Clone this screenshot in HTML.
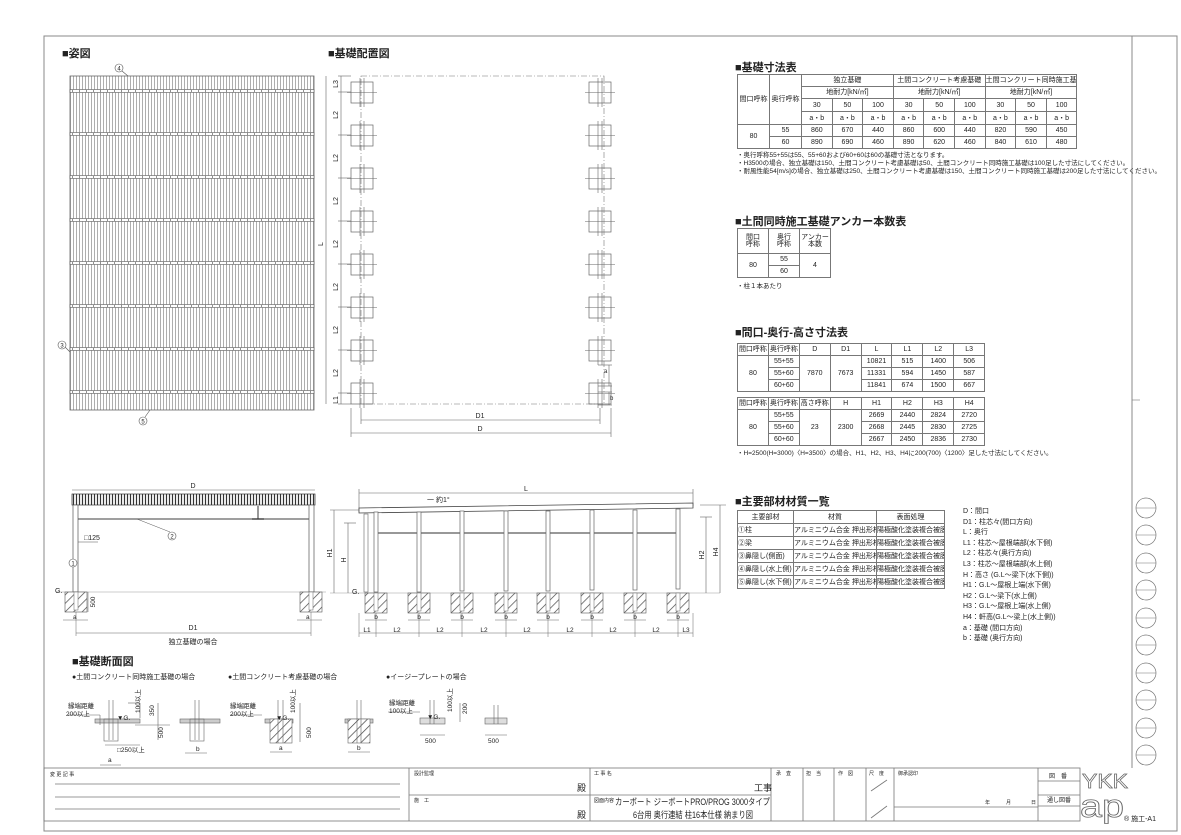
<!DOCTYPE html>
<html><head><meta charset="utf-8">
<style>
html,body{margin:0;padding:0;background:#fff;}
body{width:1181px;height:835px;position:relative;overflow:hidden;font-family:"Liberation Sans","Noto Sans CJK JP",sans-serif;color:#222;}
svg{position:absolute;left:0;top:0;}
svg text{font-family:"Liberation Sans","Noto Sans CJK JP",sans-serif;}
.t{position:absolute;border-collapse:collapse;font-size:7px;line-height:1;table-layout:fixed;}
.t td{border:1px solid #777;text-align:center;padding:0;white-space:nowrap;overflow:hidden;}
.h{position:absolute;font-size:11px;font-weight:bold;white-space:nowrap;}
.n{position:absolute;font-size:6.5px;white-space:nowrap;}
</style></head><body>
<svg width="1181" height="835" viewBox="0 0 1181 835" fill="#222">
<defs>
<pattern id="raf" width="3" height="10" patternUnits="userSpaceOnUse"><rect width="3" height="10" fill="#fff"/><line x1="1.5" y1="0" x2="1.5" y2="10" stroke="#999" stroke-width="0.8"/></pattern>
<pattern id="tick" width="3" height="10" patternUnits="userSpaceOnUse"><rect width="3" height="10" fill="#fff"/><line x1="1.5" y1="0" x2="1.5" y2="10" stroke="#333" stroke-width="1.2"/></pattern>
<pattern id="hat" width="6" height="6" patternUnits="userSpaceOnUse" patternTransform="rotate(45)"><rect width="6" height="6" fill="#fff"/><line x1="0" y1="0" x2="0" y2="6" stroke="#444" stroke-width="1.4"/></pattern>
<g id="sq"><rect x="0" y="0" width="22" height="21" fill="none" stroke="#666" stroke-width="0.7"/><line x1="-4" y1="10.5" x2="26" y2="10.5" stroke="#666" stroke-width="0.6"/><line x1="9" y1="-4" x2="9" y2="25" stroke="#666" stroke-width="0.6"/><line x1="13" y1="-4" x2="13" y2="25" stroke="#666" stroke-width="0.6"/></g>
<g id="beam"><rect x="70" y="-1.5" width="244" height="3" fill="#fff" stroke="#555" stroke-width="0.6"/><line x1="72" y1="0" x2="312" y2="0" stroke="#222" stroke-width="1" stroke-dasharray="1 6"/></g>
<g id="fnd"><rect x="-11" y="0" width="22" height="20" fill="url(#hat)" stroke="#555" stroke-width="0.6"/><rect x="-2" y="0" width="4" height="18" fill="#fff" stroke="#666" stroke-width="0.5"/></g>
<g id="post"><rect x="-2" y="0" width="4" height="80" fill="#fff" stroke="#666" stroke-width="0.7"/></g>
</defs>

<rect x="44" y="36" width="1133" height="795" fill="none" stroke="#888" stroke-width="1"/>
<line x1="1132" y1="36" x2="1132" y2="768" stroke="#888" stroke-width="1"/>

<text x="62" y="57" font-size="11" font-weight="bold">■姿図</text>
<rect x="70" y="76" width="244" height="334" fill="url(#raf)" stroke="#666" stroke-width="0.8"/>
<use href="#beam" y="91"/><use href="#beam" y="134"/><use href="#beam" y="177"/><use href="#beam" y="220"/>
<use href="#beam" y="263"/><use href="#beam" y="306"/><use href="#beam" y="349"/><use href="#beam" y="392"/>
<circle cx="119" cy="68" r="4" fill="#fff" stroke="#555" stroke-width="0.6"/><text x="119" y="70.5" font-size="6" text-anchor="middle">4</text>
<line x1="122" y1="71" x2="128" y2="76" stroke="#555" stroke-width="0.6"/>
<circle cx="62" cy="345" r="4" fill="#fff" stroke="#555" stroke-width="0.6"/><text x="62" y="347.5" font-size="6" text-anchor="middle">3</text>
<line x1="65" y1="347" x2="70" y2="352" stroke="#555" stroke-width="0.6"/>
<circle cx="143" cy="421" r="4" fill="#fff" stroke="#555" stroke-width="0.6"/><text x="143" y="423.5" font-size="6" text-anchor="middle">5</text>
<line x1="145" y1="417" x2="150" y2="410" stroke="#555" stroke-width="0.6"/>

<text x="328" y="57" font-size="11" font-weight="bold">■基礎配置図</text>
<rect x="361" y="76" width="243" height="328" fill="none" stroke="#777" stroke-width="0.6" stroke-dasharray="6 2 1 2"/>
<use href="#sq" x="351" y="82"/><use href="#sq" x="589" y="82"/>
<use href="#sq" x="351" y="125"/><use href="#sq" x="589" y="125"/>
<use href="#sq" x="351" y="168"/><use href="#sq" x="589" y="168"/>
<use href="#sq" x="351" y="211"/><use href="#sq" x="589" y="211"/>
<use href="#sq" x="351" y="254"/><use href="#sq" x="589" y="254"/>
<use href="#sq" x="351" y="297"/><use href="#sq" x="589" y="297"/>
<use href="#sq" x="351" y="340"/><use href="#sq" x="589" y="340"/>
<use href="#sq" x="351" y="383"/><use href="#sq" x="589" y="383"/>
<line x1="326" y1="76" x2="326" y2="404" stroke="#666" stroke-width="0.6"/>
<line x1="341" y1="76" x2="341" y2="404" stroke="#666" stroke-width="0.6"/>
<g stroke="#666" stroke-width="0.6"><line x1="338" y1="76" x2="351" y2="76"/><line x1="338" y1="92" x2="351" y2="92"/><line x1="338" y1="135" x2="351" y2="135"/><line x1="338" y1="178" x2="351" y2="178"/><line x1="338" y1="221" x2="351" y2="221"/><line x1="338" y1="264" x2="351" y2="264"/><line x1="338" y1="307" x2="351" y2="307"/><line x1="338" y1="350" x2="351" y2="350"/><line x1="338" y1="393" x2="351" y2="393"/><line x1="338" y1="404" x2="351" y2="404"/></g>
<g font-size="7"><text transform="translate(338,84) rotate(-90)" text-anchor="middle">L3</text>
<text transform="translate(338,115) rotate(-90)" text-anchor="middle">L2</text><text transform="translate(338,158) rotate(-90)" text-anchor="middle">L2</text><text transform="translate(338,201) rotate(-90)" text-anchor="middle">L2</text><text transform="translate(338,244) rotate(-90)" text-anchor="middle">L2</text><text transform="translate(338,287) rotate(-90)" text-anchor="middle">L2</text><text transform="translate(338,330) rotate(-90)" text-anchor="middle">L2</text><text transform="translate(338,373) rotate(-90)" text-anchor="middle">L2</text><text transform="translate(338,400) rotate(-90)" text-anchor="middle">L1</text>
<text transform="translate(323,244) rotate(-90)" text-anchor="middle">L</text></g>
<g stroke="#666" stroke-width="0.6"><line x1="598" y1="365" x2="612" y2="365"/><line x1="598" y1="386" x2="612" y2="386"/><line x1="609" y1="365" x2="609" y2="386"/><line x1="598" y1="392" x2="612" y2="392"/><line x1="598" y1="405" x2="612" y2="405"/><line x1="609" y1="392" x2="609" y2="405"/></g>
<text x="604" y="373" font-size="6">a</text><text x="610" y="400" font-size="6">b</text>
<line x1="361" y1="420" x2="600" y2="420" stroke="#666" stroke-width="0.6"/><text x="480" y="418" font-size="7" text-anchor="middle">D1</text>
<line x1="351" y1="433" x2="611" y2="433" stroke="#666" stroke-width="0.6"/><text x="480" y="431" font-size="7" text-anchor="middle">D</text>
<g stroke="#666" stroke-width="0.6"><line x1="361" y1="408" x2="361" y2="424"/><line x1="600" y1="408" x2="600" y2="424"/><line x1="351" y1="408" x2="351" y2="437"/><line x1="611" y1="408" x2="611" y2="437"/></g>

<line x1="72" y1="490" x2="315" y2="490" stroke="#666" stroke-width="0.6"/><text x="193" y="488" font-size="7" text-anchor="middle">D</text>
<rect x="72" y="494" width="243" height="11" fill="url(#tick)" stroke="#333" stroke-width="0.7"/>
<line x1="76" y1="519" x2="311" y2="519" stroke="#666" stroke-width="1.2"/>
<line x1="258" y1="506" x2="258" y2="519" stroke="#333" stroke-width="1"/><line x1="252" y1="519" x2="264" y2="519" stroke="#333" stroke-width="1.2"/>
<rect x="73" y="505" width="5" height="87" fill="#fff" stroke="#555" stroke-width="0.7"/>
<rect x="309" y="505" width="5" height="87" fill="#fff" stroke="#555" stroke-width="0.7"/>
<text x="84" y="540" font-size="7">□125</text><line x1="78" y1="542" x2="98" y2="542" stroke="#555" stroke-width="0.5"/>
<circle cx="73" cy="563" r="4" fill="#fff" stroke="#555" stroke-width="0.6"/><text x="73" y="565.5" font-size="6" text-anchor="middle">1</text>
<circle cx="172" cy="536" r="4" fill="#fff" stroke="#555" stroke-width="0.6"/><text x="172" y="538.5" font-size="6" text-anchor="middle">2</text>
<line x1="137" y1="519" x2="170" y2="532" stroke="#555" stroke-width="0.5"/>
<line x1="56" y1="592" x2="326" y2="592" stroke="#999" stroke-width="0.5"/>
<text x="55" y="593" font-size="7">G.</text>
<use href="#fnd" x="76" y="592"/><use href="#fnd" x="311" y="592"/>
<line x1="88" y1="592" x2="88" y2="612" stroke="#666" stroke-width="0.5"/><text transform="translate(95,602) rotate(-90)" font-size="6.5" text-anchor="middle">500</text>
<g stroke="#666" stroke-width="0.5"><line x1="63" y1="620" x2="88" y2="620"/><line x1="297" y1="620" x2="322" y2="620"/><line x1="76" y1="612" x2="76" y2="636"/><line x1="311" y1="612" x2="311" y2="636"/><line x1="76" y1="633" x2="311" y2="633"/></g>
<text x="73" y="619" font-size="6.5">a</text><text x="306" y="619" font-size="6.5">a</text>
<text x="193" y="630" font-size="7" text-anchor="middle">D1</text>
<text x="193" y="644" font-size="7" text-anchor="middle">独立基礎の場合</text>

<line x1="359" y1="493" x2="693" y2="493" stroke="#666" stroke-width="0.6"/><text x="526" y="491" font-size="7" text-anchor="middle">L</text>
<g stroke="#666" stroke-width="0.6"><line x1="359" y1="489" x2="359" y2="512"/><line x1="693" y1="489" x2="693" y2="506"/></g>
<text x="427" y="502" font-size="7">一 約1°</text>
<polygon points="359,508 693,503 693,508 359,513" fill="#fff" stroke="#444" stroke-width="0.8"/>
<line x1="378" y1="533" x2="680" y2="533" stroke="#777" stroke-width="1.6"/>
<rect x="364" y="514" width="4" height="78" fill="#fff" stroke="#666" stroke-width="0.6"/>
<use href="#post" x="376" y="512"/><use href="#post" x="419" y="512"/><use href="#post" x="462" y="511"/><use href="#post" x="506" y="511"/><use href="#post" x="548" y="511"/><use href="#post" x="592" y="510"/><use href="#post" x="635" y="510"/><use href="#post" x="678" y="509"/>
<line x1="330" y1="593" x2="720" y2="593" stroke="#999" stroke-width="0.5"/>
<text x="352" y="594" font-size="7">G.</text>
<use href="#fnd" x="376" y="593"/><use href="#fnd" x="419" y="593"/><use href="#fnd" x="462" y="593"/><use href="#fnd" x="506" y="593"/><use href="#fnd" x="548" y="593"/><use href="#fnd" x="592" y="593"/><use href="#fnd" x="635" y="593"/><use href="#fnd" x="678" y="593"/>
<g stroke="#666" stroke-width="0.6"><line x1="334" y1="510" x2="334" y2="593"/><line x1="330" y1="510" x2="359" y2="510"/><line x1="348" y1="523" x2="348" y2="593"/><line x1="344" y1="523" x2="356" y2="523"/>
<line x1="700" y1="517" x2="712" y2="517"/><line x1="706" y1="517" x2="706" y2="593"/><line x1="700" y1="505" x2="726" y2="505"/><line x1="720" y1="505" x2="720" y2="593"/></g>
<g font-size="7"><text transform="translate(332,553) rotate(-90)" text-anchor="middle">H1</text><text transform="translate(346,560) rotate(-90)" text-anchor="middle">H</text><text transform="translate(704,555) rotate(-90)" text-anchor="middle">H2</text><text transform="translate(718,552) rotate(-90)" text-anchor="middle">H4</text></g>
<g stroke="#666" stroke-width="0.5">
<line x1="365" y1="620" x2="387" y2="620"/><line x1="408" y1="620" x2="430" y2="620"/><line x1="451" y1="620" x2="473" y2="620"/><line x1="495" y1="620" x2="517" y2="620"/><line x1="537" y1="620" x2="559" y2="620"/><line x1="581" y1="620" x2="603" y2="620"/><line x1="624" y1="620" x2="646" y2="620"/><line x1="667" y1="620" x2="689" y2="620"/>
<line x1="359" y1="633" x2="693" y2="633"/>
<line x1="359" y1="613" x2="359" y2="637"/><line x1="376" y1="613" x2="376" y2="637"/><line x1="419" y1="613" x2="419" y2="637"/><line x1="462" y1="613" x2="462" y2="637"/><line x1="506" y1="613" x2="506" y2="637"/><line x1="548" y1="613" x2="548" y2="637"/><line x1="592" y1="613" x2="592" y2="637"/><line x1="635" y1="613" x2="635" y2="637"/><line x1="678" y1="613" x2="678" y2="637"/><line x1="693" y1="613" x2="693" y2="637"/></g>
<g font-size="6.5" text-anchor="middle"><text x="376" y="619">b</text><text x="419" y="619">b</text><text x="462" y="619">b</text><text x="506" y="619">b</text><text x="548" y="619">b</text><text x="592" y="619">b</text><text x="635" y="619">b</text><text x="678" y="619">b</text>
<text x="367" y="632">L1</text><text x="397" y="632">L2</text><text x="440" y="632">L2</text><text x="484" y="632">L2</text><text x="527" y="632">L2</text><text x="570" y="632">L2</text><text x="613" y="632">L2</text><text x="656" y="632">L2</text><text x="686" y="632">L3</text></g>

<text x="72" y="665" font-size="11" font-weight="bold">■基礎断面図</text>
<text x="72" y="679" font-size="7">●土間コンクリート同時施工基礎の場合</text>
<text x="228" y="679" font-size="7">●土間コンクリート考慮基礎の場合</text>
<text x="386" y="679" font-size="7">●イージープレートの場合</text>
<g stroke="#666" stroke-width="0.6" fill="none">
<rect x="95" y="719" width="45" height="4" fill="#ccc"/><rect x="180" y="719" width="40" height="4" fill="#ccc"/>
<rect x="104" y="719" width="14" height="22"/><line x1="109" y1="700" x2="109" y2="740"/><line x1="113" y1="700" x2="113" y2="740"/>
<rect x="190" y="719" width="14" height="22"/><line x1="195" y1="700" x2="195" y2="740"/><line x1="199" y1="700" x2="199" y2="740"/>
<line x1="68" y1="715" x2="100" y2="715"/><line x1="100" y1="715" x2="100" y2="725"/><line x1="135" y1="725" x2="170" y2="725"/><line x1="128" y1="703" x2="140" y2="703"/><line x1="140" y1="703" x2="140" y2="718"/><line x1="158" y1="703" x2="158" y2="740"/>
<line x1="100" y1="765" x2="121" y2="765"/><line x1="105" y1="745" x2="140" y2="745"/><line x1="185" y1="753" x2="207" y2="753"/>
<rect x="265" y="719" width="28" height="4" fill="#ccc"/><rect x="345" y="719" width="28" height="4" fill="#ccc"/>
<rect x="270" y="719" width="22" height="24" fill="url(#hat)"/><line x1="278" y1="700" x2="278" y2="743"/><line x1="283" y1="700" x2="283" y2="743"/>
<rect x="348" y="719" width="22" height="24" fill="url(#hat)"/><line x1="357" y1="700" x2="357" y2="743"/><line x1="361" y1="700" x2="361" y2="743"/>
<line x1="230" y1="715" x2="262" y2="715"/><line x1="300" y1="703" x2="300" y2="742"/><line x1="270" y1="752" x2="292" y2="752"/><line x1="348" y1="752" x2="370" y2="752"/>
<rect x="420" y="718" width="25" height="6" fill="#ddd"/><rect x="485" y="718" width="22" height="6" fill="#ddd"/>
<line x1="430" y1="700" x2="430" y2="724"/><line x1="434" y1="700" x2="434" y2="724"/><line x1="494" y1="705" x2="494" y2="724"/><line x1="498" y1="705" x2="498" y2="724"/>
<line x1="388" y1="712" x2="420" y2="712"/><line x1="460" y1="703" x2="460" y2="722"/><line x1="420" y1="735" x2="445" y2="735"/><line x1="485" y1="735" x2="507" y2="735"/>
</g>
<g font-size="6.5">
<text x="68" y="708">縁端距離</text><text x="66" y="716">200以上</text><text x="117" y="720">▼G.</text>
<text transform="translate(140,713) rotate(-90)">100以上</text><text transform="translate(154,716) rotate(-90)">350</text><text transform="translate(163,738) rotate(-90)">500</text>
<text x="117" y="752">□250以上</text><text x="108" y="762">a</text><text x="196" y="751">b</text>
<text x="230" y="708">縁端距離</text><text x="230" y="716">200以上</text><text x="276" y="720">▼G.</text>
<text transform="translate(295,713) rotate(-90)">100以上</text><text transform="translate(311,738) rotate(-90)">500</text>
<text x="279" y="750">a</text><text x="357" y="750">b</text>
<text x="389" y="705">縁端距離</text><text x="389" y="713">100以上</text><text x="427" y="719">▼G.</text>
<text transform="translate(452,712) rotate(-90)">100以上</text><text transform="translate(467,714) rotate(-90)">200</text>
<text x="425" y="743">500</text><text x="488" y="743">500</text>
</g>

<g stroke="#777" stroke-width="0.7" fill="#fff">
<circle cx="1146" cy="508" r="10"/><circle cx="1146" cy="535" r="10"/><circle cx="1146" cy="563" r="10"/><circle cx="1146" cy="590" r="10"/><circle cx="1146" cy="618" r="10"/><circle cx="1146" cy="645" r="10"/><circle cx="1146" cy="673" r="10"/><circle cx="1146" cy="700" r="10"/><circle cx="1146" cy="728" r="10"/><circle cx="1146" cy="755" r="10"/>
</g>
<g stroke="#777" stroke-width="0.6"><line x1="1136" y1="508" x2="1156" y2="508"/><line x1="1136" y1="535" x2="1156" y2="535"/><line x1="1136" y1="563" x2="1156" y2="563"/><line x1="1136" y1="590" x2="1156" y2="590"/><line x1="1136" y1="618" x2="1156" y2="618"/><line x1="1136" y1="645" x2="1156" y2="645"/><line x1="1136" y1="673" x2="1156" y2="673"/><line x1="1136" y1="700" x2="1156" y2="700"/><line x1="1136" y1="728" x2="1156" y2="728"/><line x1="1136" y1="755" x2="1156" y2="755"/><line x1="1132" y1="400" x2="1140" y2="400"/></g>

<g stroke="#777" stroke-width="0.8" fill="none">
<rect x="44" y="768" width="1036" height="53"/>
<line x1="409" y1="768" x2="409" y2="821"/><line x1="590" y1="768" x2="590" y2="821"/><line x1="771" y1="768" x2="771" y2="821"/>
<line x1="409" y1="795" x2="771" y2="795"/>
<line x1="803" y1="768" x2="803" y2="821"/><line x1="834" y1="768" x2="834" y2="821"/><line x1="866" y1="768" x2="866" y2="821"/><line x1="894" y1="768" x2="894" y2="821"/><line x1="1038" y1="768" x2="1038" y2="821"/>
<line x1="1038" y1="781" x2="1080" y2="781"/><line x1="1038" y1="795" x2="1080" y2="795"/><line x1="1038" y1="806" x2="1080" y2="806"/>
<line x1="894" y1="807" x2="1038" y2="807"/>
<line x1="55" y1="784" x2="400" y2="784"/><line x1="55" y1="797" x2="400" y2="797"/><line x1="55" y1="809" x2="400" y2="809"/>
<line x1="871" y1="791" x2="887" y2="780"/><line x1="871" y1="818" x2="887" y2="806"/>
</g>
<g font-size="5"><text x="50" y="776">変 更 記 事</text><text x="414" y="775">設計監理</text><text x="414" y="802">施　工</text><text x="594" y="775">工 事 名</text><text x="594" y="802">図面内容</text>
<text x="776" y="775">承　査</text><text x="806" y="775">担　当</text><text x="838" y="775">作　図</text><text x="869" y="775">尺　度</text><text x="898" y="775">御承認印</text>
<text x="985" y="804">年</text><text x="1006" y="804">月</text><text x="1031" y="804">日</text></g>
<text x="1058" y="778" font-size="6" text-anchor="middle">図　番</text><text x="1059" y="802" font-size="6" text-anchor="middle">通し図番</text>
<text x="577" y="791" font-size="9">殿</text><text x="577" y="818" font-size="9">殿</text>
<text x="754" y="791" font-size="9">工事</text>
<text x="615" y="805" font-size="9" textLength="155" lengthAdjust="spacingAndGlyphs">カーボート ジーボートPRO/PROG 3000タイプ</text>
<text x="633" y="818" font-size="9" textLength="120" lengthAdjust="spacingAndGlyphs">6台用 奥行連結 柱16本仕様 納まり図</text>
<text x="1082" y="788" font-size="20" style="fill:#fff;stroke:#666;stroke-width:0.7" textLength="46" lengthAdjust="spacingAndGlyphs">YKK</text>
<text x="1080" y="817" font-size="32" style="fill:#fff;stroke:#666;stroke-width:0.8" textLength="44" lengthAdjust="spacingAndGlyphs">ap</text>
<text x="1124" y="821" font-size="7">® 施工-A1</text>
</svg>

<div class="h" style="left:735px;top:59px;">■基礎寸法表</div>
<table class="t" style="left:737px;top:74px;width:340px;">
<colgroup><col style="width:32px"><col style="width:32px"><col span="9" style="width:30.6px"></colgroup>
<tr style="height:12px"><td rowspan="4">間口呼称</td><td rowspan="4">奥行呼称</td><td colspan="3">独立基礎</td><td colspan="3">土間コンクリート考慮基礎</td><td colspan="3">土間コンクリート同時施工基礎</td></tr>
<tr style="height:12px"><td colspan="3">地耐力[kN/㎡]</td><td colspan="3">地耐力[kN/㎡]</td><td colspan="3">地耐力[kN/㎡]</td></tr>
<tr style="height:13px"><td>30</td><td>50</td><td>100</td><td>30</td><td>50</td><td>100</td><td>30</td><td>50</td><td>100</td></tr>
<tr style="height:13px"><td>a・b</td><td>a・b</td><td>a・b</td><td>a・b</td><td>a・b</td><td>a・b</td><td>a・b</td><td>a・b</td><td>a・b</td></tr>
<tr style="height:12px"><td rowspan="2">80</td><td>55</td><td>860</td><td>670</td><td>440</td><td>860</td><td>600</td><td>440</td><td>820</td><td>590</td><td>450</td></tr>
<tr style="height:12px"><td>60</td><td>890</td><td>690</td><td>460</td><td>890</td><td>620</td><td>460</td><td>840</td><td>610</td><td>480</td></tr>
</table>
<div class="n" style="left:737px;top:149px;">・奥行呼称55+55は55、55+60および60+60は60の基礎寸法となります。</div>
<div class="n" style="left:737px;top:157px;">・H3500の場合、独立基礎は150、土間コンクリート考慮基礎は50、土間コンクリート同時施工基礎は100足した寸法にしてください。</div>
<div class="n" style="left:737px;top:165px;">・耐風性能54[m/s]の場合、独立基礎は250、土間コンクリート考慮基礎は150、土間コンクリート同時施工基礎は200足した寸法にしてください。</div>

<div class="h" style="left:735px;top:213px;">■土間同時施工基礎アンカー本数表</div>
<table class="t" style="left:737px;top:228px;width:93px;">
<colgroup><col style="width:31px"><col style="width:31px"><col style="width:31px"></colgroup>
<tr style="height:25px"><td>間口<br>呼称</td><td>奥行<br>呼称</td><td>アンカー<br>本数</td></tr>
<tr style="height:12px"><td rowspan="2">80</td><td>55</td><td rowspan="2">4</td></tr>
<tr style="height:12px"><td>60</td></tr>
</table>
<div class="n" style="left:737px;top:280px;">・柱１本あたり</div>

<div class="h" style="left:735px;top:324px;">■間口-奥行-高さ寸法表</div>
<table class="t" style="left:737px;top:343px;width:247px;">
<colgroup><col span="8" style="width:30.9px"></colgroup>
<tr style="height:12px"><td>間口呼称</td><td>奥行呼称</td><td>D</td><td>D1</td><td>L</td><td>L1</td><td>L2</td><td>L3</td></tr>
<tr style="height:12px"><td rowspan="3">80</td><td>55+55</td><td rowspan="3">7870</td><td rowspan="3">7673</td><td>10821</td><td>515</td><td>1400</td><td>506</td></tr>
<tr style="height:12px"><td>55+60</td><td>11331</td><td>594</td><td>1450</td><td>587</td></tr>
<tr style="height:12px"><td>60+60</td><td>11841</td><td>674</td><td>1500</td><td>667</td></tr>
</table>
<table class="t" style="left:737px;top:397px;width:247px;">
<colgroup><col span="8" style="width:30.9px"></colgroup>
<tr style="height:12px"><td>間口呼称</td><td>奥行呼称</td><td>高さ呼称</td><td>H</td><td>H1</td><td>H2</td><td>H3</td><td>H4</td></tr>
<tr style="height:12px"><td rowspan="3">80</td><td>55+55</td><td rowspan="3">23</td><td rowspan="3">2300</td><td>2669</td><td>2440</td><td>2824</td><td>2720</td></tr>
<tr style="height:12px"><td>55+60</td><td>2668</td><td>2445</td><td>2830</td><td>2725</td></tr>
<tr style="height:12px"><td>60+60</td><td>2667</td><td>2450</td><td>2836</td><td>2730</td></tr>
</table>
<div class="n" style="left:737px;top:447px;">・H=2500(H=3000)〈H=3500〉の場合、H1、H2、H3、H4に200(700)〈1200〉足した寸法にしてください。</div>

<div class="h" style="left:735px;top:493px;">■主要部材材質一覧</div>
<table class="t" style="left:737px;top:510px;width:207px;">
<colgroup><col style="width:56px"><col style="width:83px"><col style="width:68px"></colgroup>
<tr style="height:13px"><td>主要部材</td><td>材質</td><td>表面処理</td></tr>
<tr style="height:13px"><td style="text-align:left">①柱</td><td style="text-align:left">アルミニウム合金 押出形材</td><td>陽極酸化塗装複合被膜</td></tr>
<tr style="height:13px"><td style="text-align:left">②梁</td><td style="text-align:left">アルミニウム合金 押出形材</td><td>陽極酸化塗装複合被膜</td></tr>
<tr style="height:13px"><td style="text-align:left">③鼻隠し(側面)</td><td style="text-align:left">アルミニウム合金 押出形材</td><td>陽極酸化塗装複合被膜</td></tr>
<tr style="height:13px"><td style="text-align:left">④鼻隠し(水上側)</td><td style="text-align:left">アルミニウム合金 押出形材</td><td>陽極酸化塗装複合被膜</td></tr>
<tr style="height:13px"><td style="text-align:left">⑤鼻隠し(水下側)</td><td style="text-align:left">アルミニウム合金 押出形材</td><td>陽極酸化塗装複合被膜</td></tr>
</table>
<div class="n" style="left:963px;top:507px;line-height:10.6px;font-size:7px;">D：間口<br>D1：柱芯々(間口方向)<br>L：奥行<br>L1：柱芯～屋根端部(水下側)<br>L2：柱芯々(奥行方向)<br>L3：柱芯～屋根端部(水上側)<br>H：高さ (G.L～梁下(水下側))<br>H1：G.L～屋根上端(水下側)<br>H2：G.L～梁下(水上側)<br>H3：G.L～屋根上端(水上側)<br>H4：軒高(G.L～梁上(水上側))<br>a：基礎 (間口方向)<br>b：基礎 (奥行方向)</div>
</body></html>
